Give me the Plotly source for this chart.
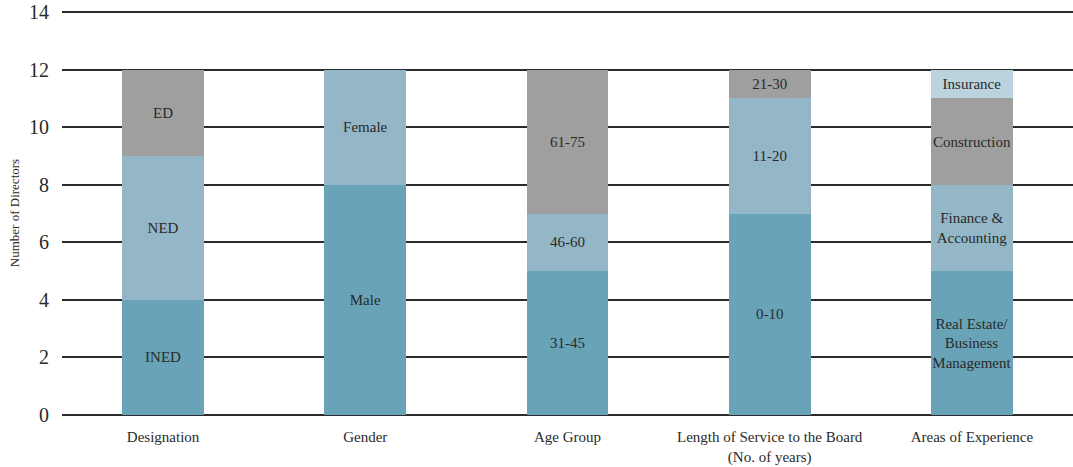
import plotly.graph_objects as go

categories = ["Designation", "Gender", "Age Group",
              "Length of Service to the Board<br>(No. of years)", "Areas of Experience"]

layer1_values = [4, 8, 5, 7, 5]
layer1_labels = ["INED", "Male", "31-45", "0-10", "Real Estate/<br>Business<br>Management"]
layer2_values = [5, 4, 2, 4, 3]
layer2_labels = ["NED", "Female", "46-60", "11-20", "Finance &<br>Accounting"]
layer3_values = [3, 0, 5, 1, 3]
layer3_labels = ["ED", "", "61-75", "21-30", "Construction"]
layer4_values = [0, 0, 0, 0, 1]
layer4_labels = ["", "", "", "", "Insurance"]

colors = ["#68A3B7", "#93B7C7", "#A09F9F", "#BAD3DE"]
FONT = "Liberation Serif"

fig = go.Figure()
for vals, labs, col in zip([layer1_values, layer2_values, layer3_values, layer4_values],
                           [layer1_labels, layer2_labels, layer3_labels, layer4_labels],
                           colors):
    fig.add_trace(go.Bar(
        x=categories, y=vals, text=labs, texttemplate="%{text}",
        textposition="inside", insidetextanchor="middle", textangle=0,
        constraintext="none",
        textfont=dict(family=FONT, size=15, color="#2a2a2a"),
        marker=dict(color=col, line=dict(width=0)),
        width=0.405, hoverinfo="skip", showlegend=False,
    ))

fig.update_layout(
    barmode="stack",
    width=1073, height=467,
    margin=dict(l=62, r=0, t=11, b=52),
    plot_bgcolor="white", paper_bgcolor="white",
    font=dict(family=FONT, color="#2a2a2a"),
    xaxis=dict(showgrid=False, showline=False, ticks="", automargin=False,
               ticklabelstandoff=11,
               tickfont=dict(family=FONT, size=15, color="#2a2a2a")),
    yaxis=dict(range=[0, 14.04], tickvals=[0, 2, 4, 6, 8, 10, 12, 14],
               showgrid=True, gridcolor="#2b2b2b", gridwidth=1.5, automargin=False,
               zeroline=True, zerolinecolor="#2b2b2b", zerolinewidth=1.5,
               tickfont=dict(family=FONT, size=20, color="#2a2a2a"), ticklabelstandoff=12,
               title=dict(text="Number of Directors", font=dict(family=FONT, size=13, color="#2a2a2a"),
                          standoff=6)),
)

fig.write_html("out.html", config={"displayModeBar": False},
               post_script="document.body.style.margin='0';document.body.style.overflow='hidden';")
